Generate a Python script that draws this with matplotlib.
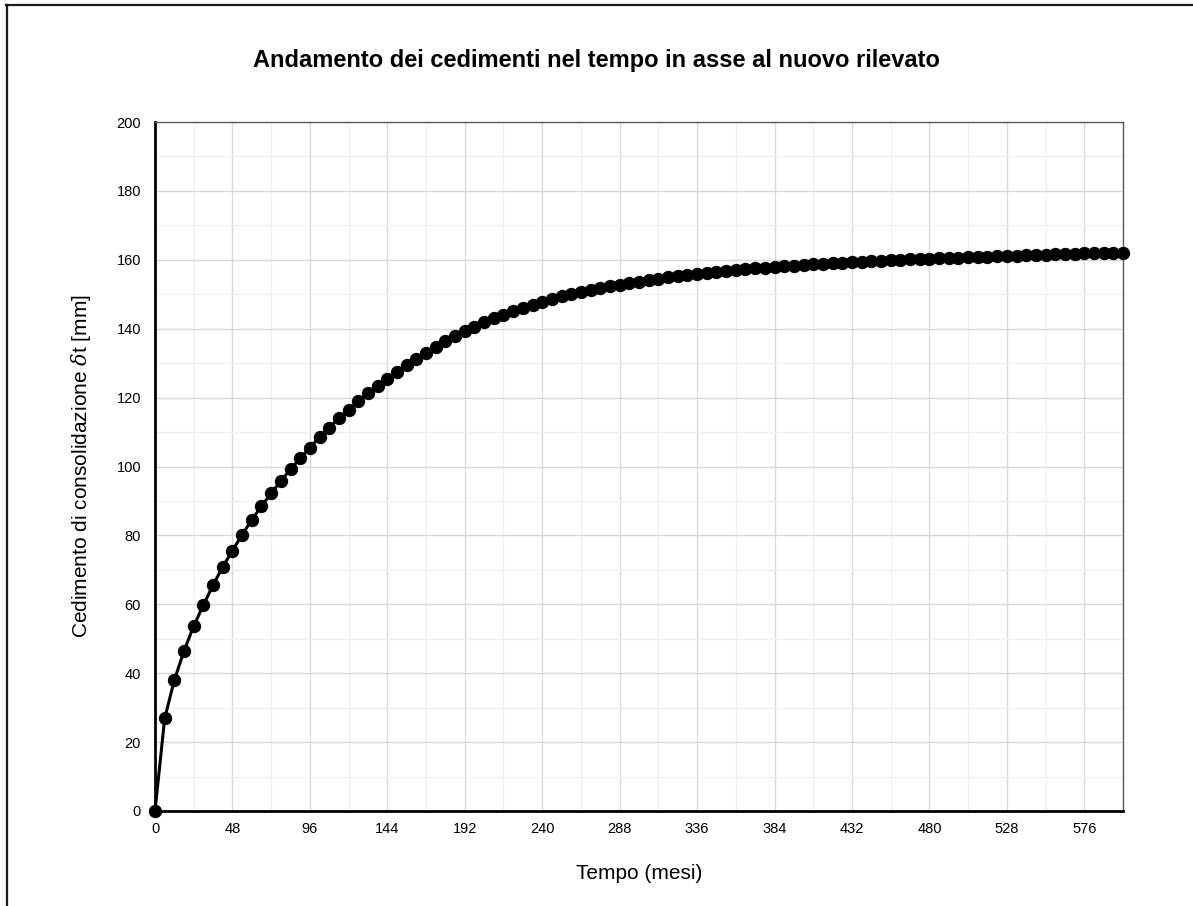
import matplotlib.pyplot as plt
from matplotlib.lines import Line2D
from matplotlib.ticker import MultipleLocator

plt.rcParams['font.family'] = ['Liberation Sans', 'DejaVu Sans']
plt.rcParams['mathtext.fontset'] = 'dejavuserif'

# tempo in mesi (un punto ogni 6 mesi) e cedimento
tempo = list(range(0, 601, 6))
cedimento = [
    0.0, 26.9, 38.0, 46.5, 53.7, 59.8, 65.6, 70.9, 75.6, 80.2,
    84.5, 88.5, 92.2, 95.8, 99.2, 102.4, 105.5, 108.5, 111.3, 114.0,
    116.4, 118.9, 121.2, 123.4, 125.5, 127.5, 129.4, 131.2, 133.0, 134.7,
    136.3, 137.8, 139.2, 140.6, 141.9, 143.0, 144.1, 145.1, 146.1, 147.0,
    147.8, 148.6, 149.4, 150.1, 150.7, 151.3, 151.8, 152.3, 152.8, 153.3,
    153.7, 154.1, 154.5, 154.9, 155.3, 155.6, 155.9, 156.2, 156.5, 156.8,
    157.0, 157.3, 157.5, 157.7, 157.9, 158.1, 158.3, 158.5, 158.7, 158.8,
    159.0, 159.1, 159.3, 159.4, 159.6, 159.7, 159.8, 160.0, 160.1, 160.2,
    160.3, 160.4, 160.5, 160.6, 160.7, 160.8, 160.9, 161.0, 161.1, 161.2,
    161.3, 161.4, 161.5, 161.6, 161.7, 161.8, 161.9, 161.9, 162.0, 162.0,
    162.1,
]

W, H = 1193, 906
fig = plt.figure(figsize=(W / 100, H / 100), dpi=100)
ax = fig.add_axes([155 / W, 1 - 811 / H, (1123 - 155) / W, (811 - 122) / H])

# cornice del grafico (visibile solo in alto e a sinistra)
fig.add_artist(Line2D([6 / W, 1], [1 - 5 / H, 1 - 5 / H], transform=fig.transFigure,
                      color='#1a1a1a', lw=1.6))
fig.add_artist(Line2D([7 / W, 7 / W], [0, 1 - 5 / H], transform=fig.transFigure,
                      color='#1a1a1a', lw=1.6))

ax.plot(tempo, cedimento, color='black', lw=2.2, marker='o', markersize=8.6,
        clip_on=False, zorder=5)

ax.set_xlim(0, 600)
ax.set_ylim(0, 200)
ax.xaxis.set_major_locator(MultipleLocator(48))
ax.xaxis.set_minor_locator(MultipleLocator(24))
ax.yaxis.set_major_locator(MultipleLocator(20))
ax.yaxis.set_minor_locator(MultipleLocator(10))
ax.grid(which='major', color='#d9d9d9', lw=1.0)
ax.grid(which='minor', color='#f0f0f0', lw=1.0)
ax.set_axisbelow(True)
ax.tick_params(which='both', length=0, labelsize=10.5, colors='black')
ax.tick_params(axis='x', pad=8)
ax.tick_params(axis='y', pad=10)

for s in ['left', 'bottom']:
    ax.spines[s].set_color('black')
    ax.spines[s].set_linewidth(2.0)
for s in ['top', 'right']:
    ax.spines[s].set_color('#595959')
    ax.spines[s].set_linewidth(1.0)

ax.set_xlabel('Tempo (mesi)', fontsize=15, labelpad=20)
ax.set_ylabel(r'Cedimento di consolidazione $\delta$t [mm]', fontsize=15, labelpad=17)
fig.text(0.5, 1 - 60 / H, 'Andamento dei cedimenti nel tempo in asse al nuovo rilevato',
         ha='center', va='center', fontsize=17, fontweight='bold')

fig.savefig('out.png', dpi=100)
